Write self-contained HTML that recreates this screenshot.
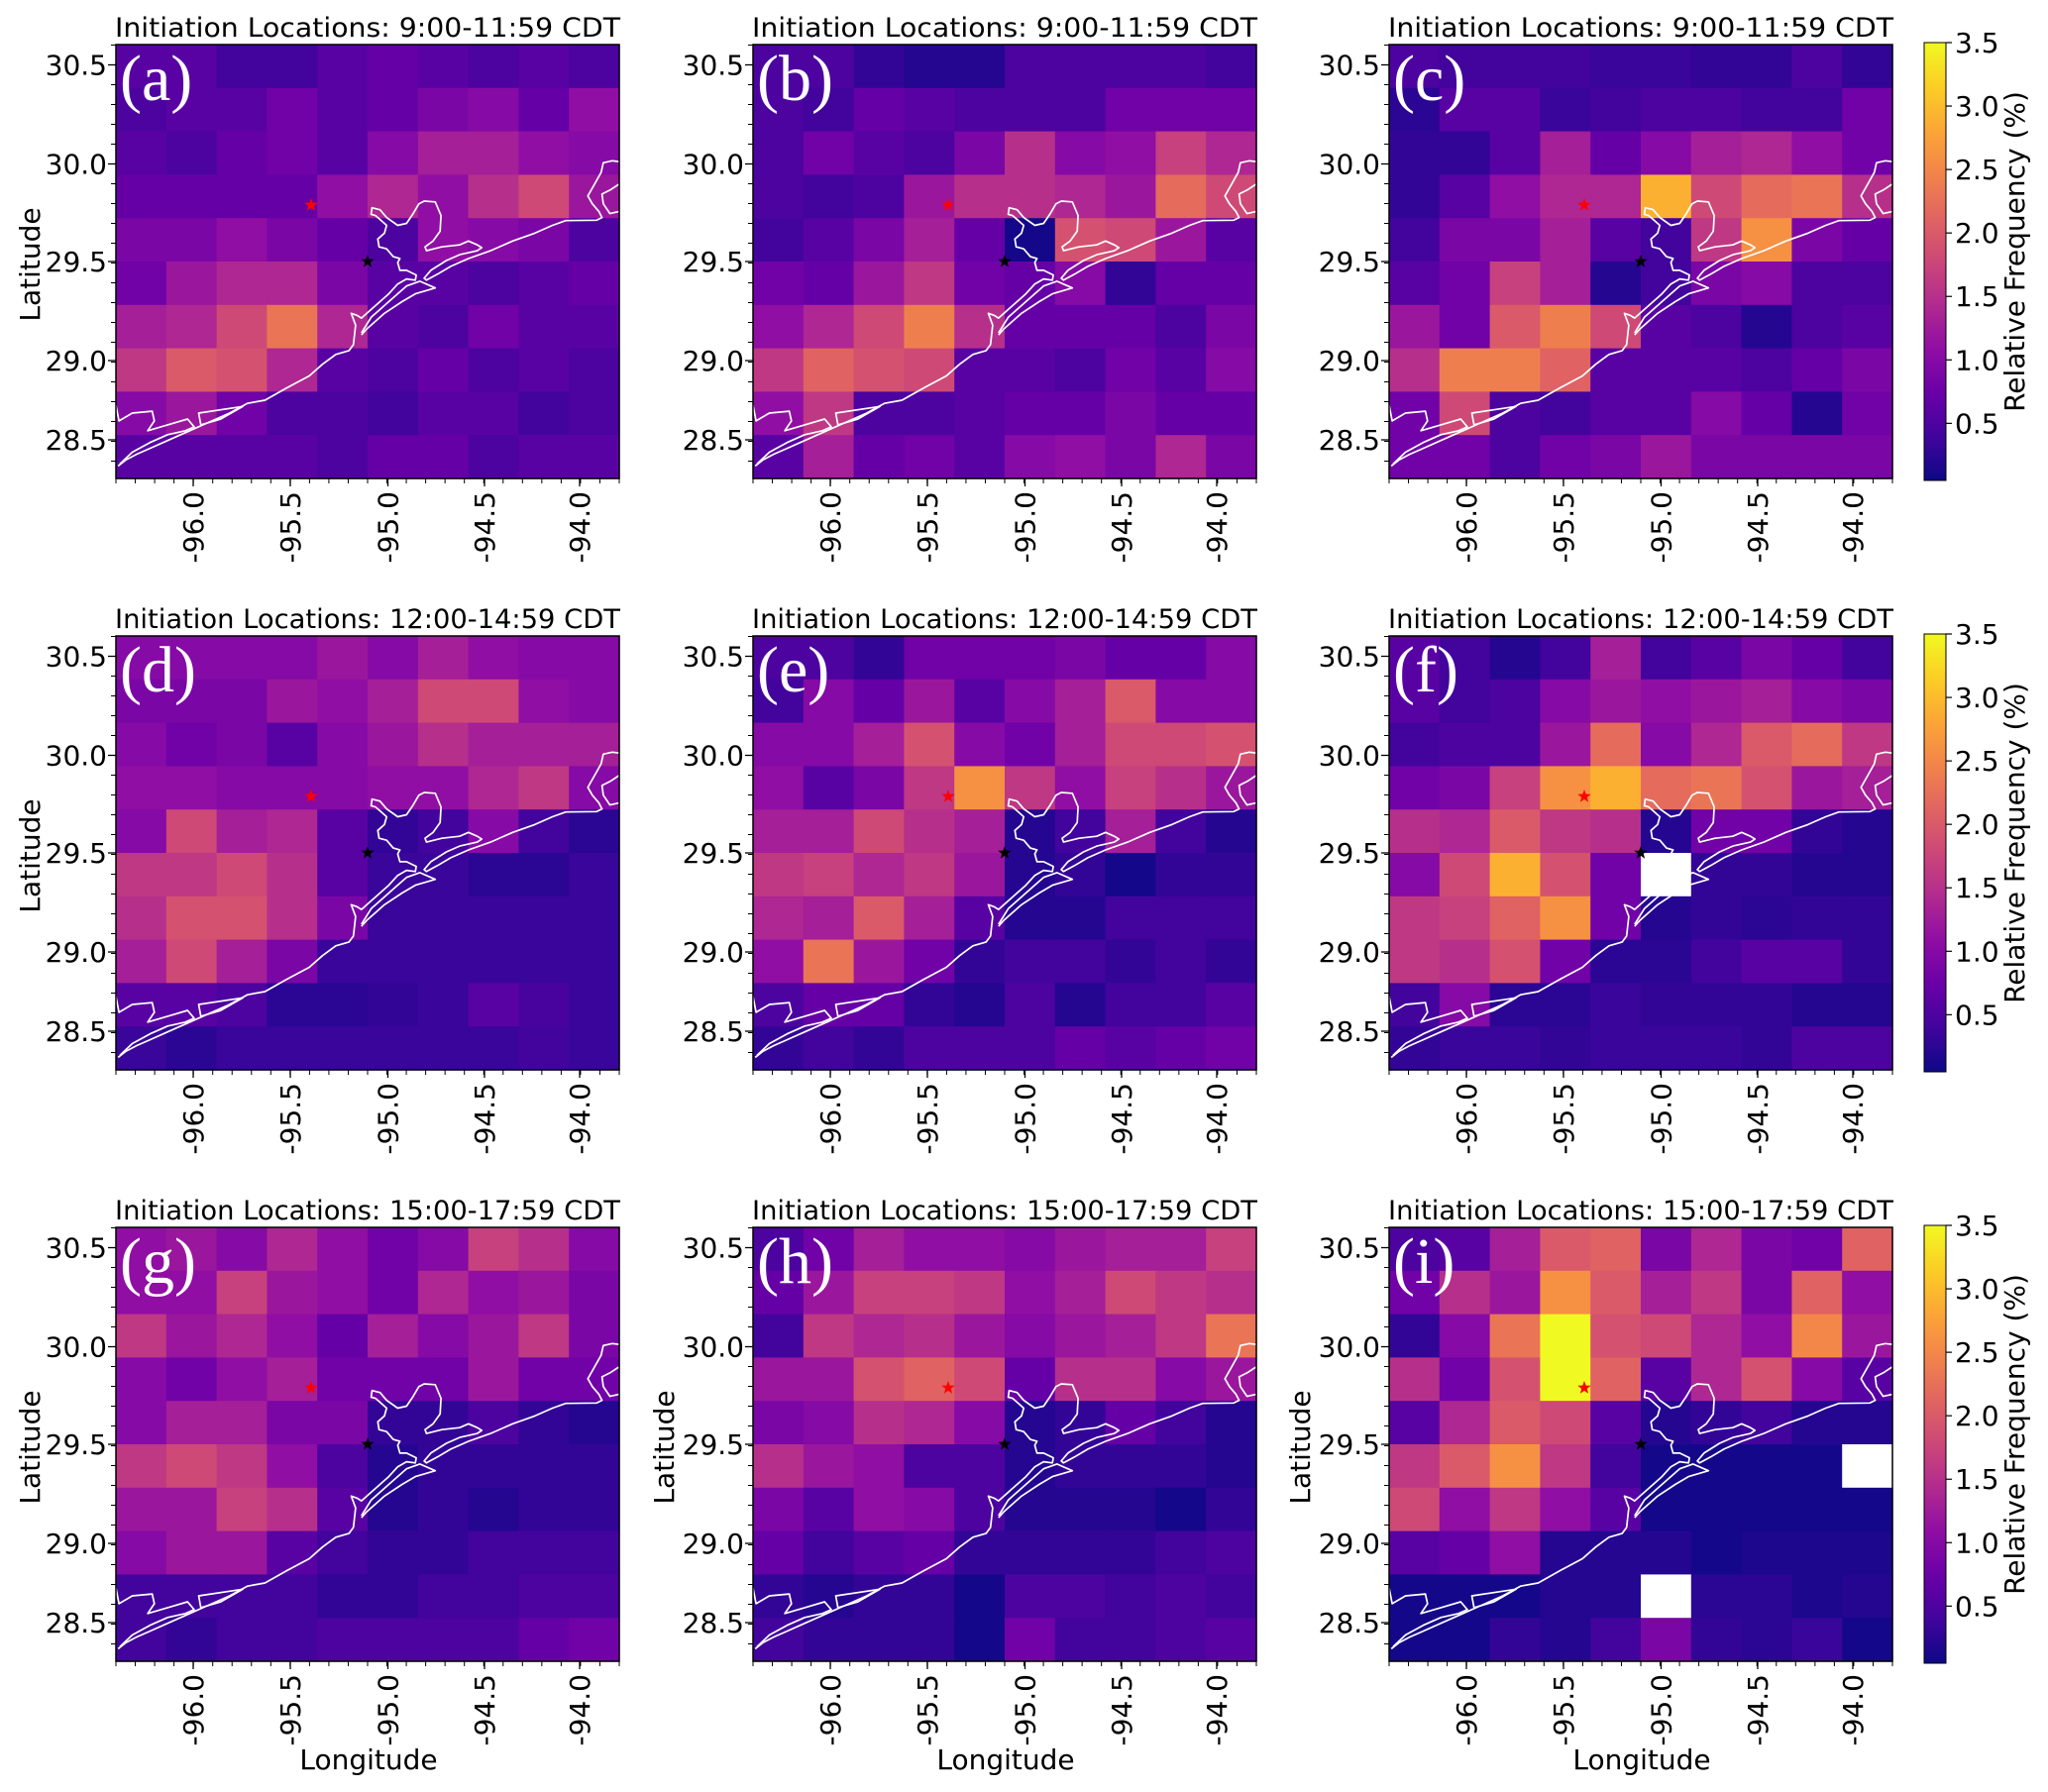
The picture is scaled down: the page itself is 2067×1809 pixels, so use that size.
<!DOCTYPE html>
<html><head><meta charset="utf-8"><style>
html,body{margin:0;padding:0;background:#fff;}
svg{display:block;font-family:"DejaVu Sans","Liberation Sans",sans-serif;}
</style></head><body>
<svg id="fig" width="2067" height="1809" viewBox="0 0 2067 1809" xmlns="http://www.w3.org/2000/svg">
<defs>
<linearGradient id="plasma" x1="0" y1="1" x2="0" y2="0">
<stop offset="0" stop-color="#0d0887"/><stop offset="0.1" stop-color="#41049d"/><stop offset="0.2" stop-color="#6a00a8"/><stop offset="0.3" stop-color="#8f0da4"/><stop offset="0.4" stop-color="#b12a90"/><stop offset="0.5" stop-color="#cc4778"/><stop offset="0.6" stop-color="#e16462"/><stop offset="0.7" stop-color="#f2844b"/><stop offset="0.8" stop-color="#fca636"/><stop offset="0.9" stop-color="#fcce25"/><stop offset="1" stop-color="#f0f921"/>
</linearGradient>
</defs>
</svg>
<script>
const lonTicks = ["-96.0","-95.5","-95.0","-94.5","-94.0"];
const latTicks = ["30.5","30.0","29.5","29.0","28.5"];
const cbTicks = [0.5,1.0,1.5,2.0,2.5,3.0,3.5];
const titles = ["Initiation Locations: 9:00-11:59 CDT","Initiation Locations: 12:00-14:59 CDT","Initiation Locations: 15:00-17:59 CDT"];
const letters = ["(a)","(b)","(c)","(d)","(e)","(f)","(g)","(h)","(i)"];
const panelA = [
[0.6,0.6,0.4,0.4,0.6,0.7,0.6,0.5,0.6,0.5],
[0.5,0.6,0.6,0.8,0.6,0.7,0.9,1.0,0.7,1.1],
[0.6,0.5,0.7,0.8,0.6,1.0,1.3,1.3,1.1,1.0],
[0.7,0.7,0.7,0.7,1.1,1.4,1.1,1.5,1.8,1.2],
[0.9,0.9,1.1,0.9,0.7,0.5,1.1,1.0,0.9,0.5],
[0.8,1.2,1.4,1.4,0.9,0.6,0.6,0.5,0.6,0.7],
[1.3,1.4,1.8,2.3,1.4,0.6,0.5,0.8,0.6,0.6],
[1.6,2.0,1.9,1.4,0.6,0.5,0.7,0.5,0.6,0.5],
[1.0,1.2,0.8,0.5,0.5,0.4,0.6,0.6,0.4,0.5],
[0.6,0.6,0.6,0.6,0.5,0.7,0.7,0.5,0.6,0.6]];
const panelB = [
[0.5,0.5,0.3,0.2,0.2,0.5,0.5,0.5,0.5,0.4],
[0.5,0.4,0.7,0.6,0.5,0.5,0.5,0.8,0.8,0.8],
[0.5,0.8,0.6,0.5,0.9,1.5,1.0,1.1,1.7,1.4],
[0.5,0.4,0.5,1.2,1.5,1.5,1.4,1.2,2.2,1.8],
[0.4,0.6,0.9,1.3,0.7,0.1,1.9,1.8,1.2,0.6],
[0.8,0.7,1.2,1.6,0.8,0.7,1.0,0.3,0.7,0.7],
[1.1,1.4,1.8,2.4,1.5,0.7,0.7,0.7,0.5,0.9],
[1.6,2.1,1.9,1.8,0.6,0.6,0.5,0.8,0.6,1.0],
[1.1,1.6,0.5,0.5,0.6,0.7,0.7,0.9,0.7,0.7],
[0.6,1.3,0.7,0.8,0.6,1.0,1.1,0.9,1.4,0.9]];
const panelC = [
[0.5,0.4,0.4,0.4,0.35,0.35,0.3,0.3,0.5,0.3],
[0.25,0.6,0.6,0.35,0.4,0.5,0.5,0.4,0.4,0.8],
[0.3,0.3,0.6,1.3,0.7,1.0,1.3,1.4,1.1,0.8],
[0.3,0.6,1.1,1.4,1.4,2.9,1.8,2.2,2.3,1.5],
[0.4,0.9,0.9,1.3,0.6,0.4,1.6,2.6,0.9,0.7],
[0.6,0.8,1.7,1.3,0.2,0.4,0.9,1.0,0.5,0.5],
[1.2,0.8,2.0,2.4,1.8,0.6,0.5,0.2,0.5,0.6],
[1.5,2.4,2.4,2.1,0.6,0.6,0.6,0.5,0.7,0.9],
[0.8,1.8,0.5,0.4,0.6,0.6,1.0,0.7,0.2,0.8],
[0.8,0.8,0.5,0.8,0.9,1.2,0.9,0.9,0.9,0.9]];
const panelD = [
[1.0,1.0,1.0,1.0,1.2,1.0,1.3,1.1,1.0,1.0],
[0.9,0.9,0.9,1.2,1.1,1.3,1.8,1.8,1.1,1.0],
[1.0,0.8,0.9,0.6,1.0,1.2,1.5,1.3,1.3,1.3],
[1.1,1.1,1.0,1.0,1.0,1.1,1.1,1.4,1.6,1.0],
[1.0,1.8,1.3,1.4,0.6,0.3,0.4,1.0,0.4,0.25],
[1.6,1.6,1.8,1.5,0.6,0.35,0.35,0.25,0.25,0.35],
[1.5,1.9,1.9,1.5,0.9,0.35,0.35,0.35,0.35,0.35],
[1.3,1.8,1.3,0.9,0.35,0.35,0.35,0.35,0.35,0.35],
[0.6,0.6,0.5,0.25,0.25,0.3,0.35,0.6,0.45,0.35],
[0.35,0.25,0.35,0.35,0.35,0.35,0.35,0.35,0.4,0.35]];
const panelE = [
[0.5,0.5,0.3,0.8,0.8,0.8,0.9,0.7,0.7,1.0],
[0.4,1.0,0.7,1.2,0.6,1.0,1.3,2.0,1.0,1.0],
[1.0,1.0,1.3,1.9,1.0,0.8,1.3,1.8,1.8,1.9],
[1.1,0.6,0.9,1.6,2.6,1.6,1.1,1.7,1.5,1.2],
[1.3,1.3,1.8,1.5,1.3,0.2,0.4,1.3,0.4,0.2],
[1.6,1.7,1.4,1.6,1.2,0.2,0.3,0.1,0.3,0.3],
[1.4,1.3,2.0,1.3,0.6,0.2,0.2,0.4,0.4,0.4],
[1.1,2.3,1.2,0.8,0.3,0.4,0.4,0.3,0.4,0.3],
[0.5,0.7,0.7,0.3,0.2,0.5,0.2,0.4,0.4,0.6],
[0.3,0.4,0.3,0.5,0.5,0.5,0.7,0.6,0.7,0.8]];
const panelF = [
[0.6,0.4,0.2,0.4,1.3,0.4,0.6,0.9,0.7,0.4],
[0.6,0.4,0.5,1.0,1.2,1.1,1.2,1.3,1.0,0.9],
[0.4,0.5,0.5,1.2,2.2,1.0,1.4,2.0,2.2,1.6],
[0.8,0.9,1.7,2.6,2.9,2.2,2.3,1.9,1.2,1.3],
[1.5,1.4,2.0,1.6,1.5,0.2,0.8,0.8,0.3,0.2],
[1.0,1.8,2.9,1.9,0.8,null,0.3,0.3,0.2,0.2],
[1.6,1.7,2.1,2.6,0.8,0.2,0.3,0.25,0.3,0.3],
[1.6,1.5,1.9,0.8,0.25,0.25,0.4,0.6,0.6,0.3],
[0.4,1.0,0.25,0.25,0.35,0.3,0.3,0.3,0.2,0.2],
[0.3,0.35,0.35,0.3,0.35,0.35,0.35,0.3,0.5,0.5]];
const panelG = [
[1.1,1.2,1.0,1.4,1.1,0.8,1.0,1.7,1.5,1.0],
[1.1,1.1,1.7,1.2,1.1,0.8,1.4,1.1,1.2,0.9],
[1.6,1.2,1.4,1.1,0.7,1.3,1.0,1.2,1.6,0.9],
[1.0,0.8,1.1,1.3,0.8,0.8,0.8,1.2,0.8,0.8],
[1.0,1.3,1.3,0.9,0.9,0.3,0.3,0.5,0.3,0.2],
[1.6,1.8,1.6,1.1,0.5,0.2,0.3,0.3,0.3,0.3],
[1.2,1.2,1.7,1.5,0.6,0.2,0.3,0.2,0.3,0.3],
[1.0,1.2,1.2,0.6,0.4,0.3,0.3,0.4,0.4,0.4],
[0.4,0.4,0.4,0.4,0.3,0.3,0.4,0.4,0.5,0.5],
[0.4,0.3,0.4,0.4,0.5,0.5,0.5,0.5,0.7,0.8]];
const panelH = [
[0.5,0.8,1.3,1.1,1.1,1.0,1.2,1.3,1.3,1.7],
[0.7,1.2,1.7,1.7,1.6,1.1,1.3,1.8,1.6,1.5],
[0.4,1.6,1.4,1.5,1.2,1.0,1.2,1.3,1.6,2.3],
[1.2,1.2,1.9,2.1,1.8,0.7,1.5,1.5,1.0,1.2],
[0.9,1.0,1.5,1.4,1.0,0.2,0.3,0.7,0.4,0.2],
[1.5,1.2,1.1,0.5,0.5,0.2,0.3,0.3,0.3,0.2],
[0.9,0.6,1.1,1.0,0.5,0.2,0.2,0.2,0.1,0.3],
[0.7,0.4,0.6,0.7,0.3,0.3,0.3,0.3,0.4,0.5],
[0.3,0.2,0.3,0.3,0.1,0.5,0.5,0.4,0.5,0.4],
[0.4,0.3,0.3,0.3,0.1,0.8,0.4,0.4,0.5,0.6]];
const panelI = [
[0.5,0.6,1.3,2.0,2.1,0.9,1.4,0.9,0.8,2.1],
[0.8,1.5,1.2,2.6,2.0,1.3,1.6,0.9,2.1,1.1],
[0.3,1.0,2.3,3.5,1.9,1.8,1.4,1.1,2.5,1.2],
[1.5,0.8,1.9,3.5,2.1,0.6,1.4,1.9,1.0,0.6],
[0.6,1.4,2.0,1.8,0.6,0.2,0.3,0.4,0.2,0.2],
[1.6,2.0,2.6,1.6,0.4,0.1,0.1,0.1,0.1,null],
[1.8,1.1,1.6,1.1,0.6,0.1,0.1,0.1,0.1,0.1],
[0.6,0.7,1.1,0.2,0.2,0.2,0.1,0.15,0.15,0.15],
[0.1,0.1,0.1,0.2,0.2,null,0.25,0.25,0.15,0.2],
[0.1,0.1,0.3,0.2,0.4,0.9,0.3,0.25,0.35,0.1]];
const panels = [panelA,panelB,panelC,panelD,panelE,panelF,panelG,panelH,panelI];

const NS = "http://www.w3.org/2000/svg";
const svg = document.getElementById("fig");
const VMIN = 0.05, VMAX = 3.5;
const PW = 508, PH = 438;
const colX = [117,760,1402], rowY = [45,642,1239];
const stops = ["#0d0887","#41049d","#6a00a8","#8f0da4","#b12a90","#cc4778","#e16462","#f2844b","#fca636","#fcce25","#f0f921"];
function hex(h){return [1,3,5].map(i=>parseInt(h.substr(i,2),16));}
function plasma(v){
  let t=(v-VMIN)/(VMAX-VMIN); t=Math.max(0,Math.min(1,t));
  const p=t*10, i=Math.min(9,Math.floor(p)), f=p-i;
  const a=hex(stops[i]), b=hex(stops[i+1]);
  return "rgb("+a.map((c,k)=>Math.round(c+(b[k]-c)*f)).join(",")+")";
}
function el(tag,attrs,parent){const e=document.createElementNS(NS,tag);for(const k in attrs)e.setAttribute(k,attrs[k]);(parent||svg).appendChild(e);return e;}
const xTickPos = [78,176,274.5,372,468];
const yTickPos = [20.5,120.5,219,319,399];
function xCell(c){return c*PW/10;}
function yCell(r){return r*PH/10;}
function cbY(v,top,h){return top+h-(v-VMIN)/(VMAX-VMIN)*h;}

const coast = [
[[268,1190],[285,1175],[310,1160],[340,1145],[380,1125],[430,1100],[470,1080],[520,1055],[560,1030],[600,1022],[650,990],[700,960],[730,930],[760,905],[790,895],[800,880],[805,830],[795,800],[808,805],[818,812],[840,790],[860,770],[880,750],[900,725],[920,712],[940,715],[942,702],[920,690],[905,690],[900,670],[905,660],[890,655],[875,635],[858,630],[855,610],[870,595],[875,575],[860,560],[850,550],[840,547],[842,530],[860,535],[875,555],[900,575],[920,570],[935,545],[948,520],[960,513],[985,515],[998,550],[996,590],[980,615],[962,630],[965,640],[1000,630],[1040,625],[1060,615],[1080,625],[1090,632],[1080,640],[1040,650],[1010,665],[975,690],[960,710],[965,715],[990,700],[1020,680],[1060,660],[1110,640],[1160,615],[1210,595],[1250,575],[1280,563],[1350,562],[1362,555],[1355,540],[1340,520],[1330,500],[1345,470],[1360,440],[1365,415],[1385,410],[1400,412]],
[[1400,470],[1380,485],[1362,495],[1365,520],[1380,545],[1400,540]],
[[818,855],[830,840],[870,800],[910,770],[940,750],[985,735],[950,718],[920,730],[880,770],[840,810],[818,850]],
[[455,1085],[450,1055],[550,1038],[500,1070],[455,1085]],
[[263,1035],[270,1075],[300,1055],[345,1050],[350,1075],[335,1100],[380,1085],[425,1070],[440,1090],[420,1100],[380,1110],[340,1130],[300,1155],[272,1185]]
];
function cx(z){return (z-263)*PW/1138;}
function cy(z){return (z-113)*PH/1109;}
function starPts(x,y,R){let s=[];for(let k=0;k<10;k++){const r=k%2?R*0.42:R;const a=-Math.PI/2+k*Math.PI/5;s.push((x+r*Math.cos(a)).toFixed(1)+","+(y+r*Math.sin(a)).toFixed(1));}return s.join(" ");}

panels.forEach((data,pi)=>{
  const row=Math.floor(pi/3), col=pi%3;
  const X=colX[col], Y=rowY[row];
  const g=el("g",{transform:"translate("+X+","+Y+")"});
  
  
  data.forEach((rw,r)=>rw.forEach((v,c)=>{
    const rc=el("rect",{x:xCell(c).toFixed(2),y:yCell(r).toFixed(2),width:(PW/10+0.6).toFixed(2),height:(PH/10+0.6).toFixed(2),fill:v===null?"#ffffff":plasma(v)},g);
    
    
  }));
  coast.forEach(line=>{
    const p=el("polyline",{points:line.map(q=>cx(q[0]).toFixed(1)+","+cy(q[1]).toFixed(1)).join(" "),fill:"none",stroke:"#ffffff","stroke-width":"1.7","stroke-linejoin":"round"},g);
    
    
  });
  const rs=el("polygon",{points:starPts(197,162,7),fill:"#ff0000"},g);
  
  
  const bs=el("polygon",{points:starPts(254,219,7),fill:"#000000"},g);
  
  
  const fr=el("rect",{x:0,y:0,width:PW,height:PH,fill:"none",stroke:"#000","stroke-width":"1.5"},g);
  
  
  for(let x=0;x<=PW+0.5;x+=PW/26){el("line",{x1:x,y1:PH,x2:x,y2:PH+5,stroke:"#000","stroke-width":"1"},g);}
  for(let y=0.5;y<=PH;y+=20){el("line",{x1:0,y1:y,x2:-5,y2:y,stroke:"#000","stroke-width":"1"},g);}
  lonTicks.forEach((t,i)=>{
    el("line",{x1:xTickPos[i],y1:PH,x2:xTickPos[i],y2:PH+8,stroke:"#000","stroke-width":"1.3"},g);
    const tx=el("text",{x:0,y:0,transform:"translate("+(xTickPos[i]+10)+","+(PH+13)+") rotate(-90)","text-anchor":"end","font-size":"28"},g);
    tx.textContent=t;
    
    
  });
  latTicks.forEach((t,i)=>{
    el("line",{x1:0,y1:yTickPos[i],x2:-8,y2:yTickPos[i],stroke:"#000","stroke-width":"1.3"},g);
    const ty=el("text",{x:-9,y:yTickPos[i]+10,"text-anchor":"end","font-size":"28"},g);
    ty.textContent=t;
    
    
  });
  const tt=el("text",{x:PW/2,y:-8,"text-anchor":"middle","font-size":"27",textLength:"510",lengthAdjust:"spacingAndGlyphs"},g);
  tt.textContent=titles[row];
  
  
  const lt=el("text",{x:4,y:56,"font-size":"66",fill:"#ffffff","font-family":"Liberation Serif, serif"},g);
  lt.textContent=letters[pi];
  
  
  if(col===0 || row===2){
    const lx = col===0 ? 40-X : (col===1? 680-X : 1322-X);
    const la=el("text",{x:0,y:0,transform:"translate("+lx+","+(PH/2+3)+") rotate(-90)","text-anchor":"middle","font-size":"28"},g);
    la.textContent="Latitude";
    
    
  }
  if(row===2){
    const lo=el("text",{x:PW/2+1,y:1786-1239,"text-anchor":"middle","font-size":"28"},g);
    lo.textContent="Longitude";
    
    
  }
});
rowY.forEach((Y,ri)=>{
  const top=Y-2, h=PH+4, x=1942, w=22;
  const g=el("g",{});
  
  
  el("rect",{x:x,y:top,width:w,height:h,fill:"url(#plasma)",stroke:"#000","stroke-width":"1"},g);
  cbTicks.forEach(v=>{
    const yy=cbY(v,top,h);
    el("line",{x1:x+w,y1:yy,x2:x+w+6,y2:yy,stroke:"#000","stroke-width":"1.2"},g);
    const t=el("text",{x:x+w+9,y:yy+10,"font-size":"28"},g);
    t.textContent=v.toFixed(1);
    
    
  });
  const lab=el("text",{x:0,y:0,transform:"translate(2043,"+(top+h/2-10)+") rotate(-90)","text-anchor":"middle","font-size":"28"},g);
  lab.textContent="Relative Frequency (%)";
  
  
});
</script>
</body></html>
